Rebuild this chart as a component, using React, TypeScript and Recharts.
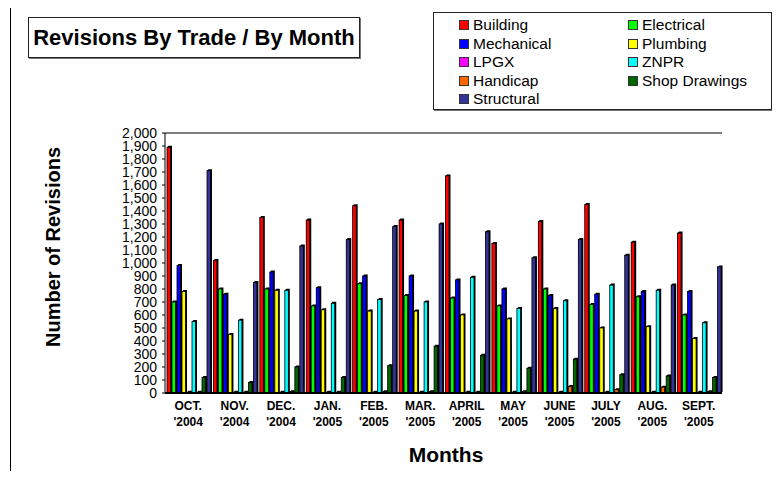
import React from 'react';
import {
  Bar,
  BarChart,
  ReferenceLine,
  XAxis,
  YAxis} from 'recharts';

const months = ['OCT.', 'NOV.', 'DEC.', 'JAN.', 'FEB.', 'MAR.', 'APRIL', 'MAY', 'JUNE', 'JULY', 'AUG.', 'SEPT.'];
const years = ["'2004", "'2004", "'2004", "'2005", "'2005", "'2005", "'2005", "'2005", "'2005", "'2005", "'2005", "'2005"];

const building = [1890, 1020, 1350, 1330, 1440, 1330, 1670, 1150, 1320, 1450, 1160, 1230];
const electrical = [700, 800, 800, 670, 840, 750, 730, 670, 800, 680, 740, 600];
const mechanical = [980, 760, 930, 810, 900, 900, 870, 800, 750, 760, 780, 780];
const plumbing = [780, 450, 790, 640, 630, 630, 600, 570, 650, 500, 510, 420];
const lpgx = [5, 5, 5, 5, 5, 5, 5, 5, 5, 5, 5, 5];
const znpr = [550, 560, 790, 690, 720, 700, 890, 650, 710, 830, 790, 540];
const handicap = [5, 5, 10, 5, 10, 10, 5, 10, 50, 25, 45, 10];
const shopDrawings = [120, 80, 200, 120, 210, 360, 290, 190, 260, 140, 130, 120];
const structural = [1710, 850, 1130, 1180, 1280, 1300, 1240, 1040, 1180, 1060, 830, 970];

const yTicks = [0, 100, 200, 300, 400, 500, 600, 700, 800, 900, 1000, 1100, 1200, 1300, 1400, 1500, 1600, 1700, 1800, 1900, 2000];

const series = [
  { key: 'building', name: 'Building', color: '#FF0000', values: building },
  { key: 'electrical', name: 'Electrical', color: '#00FF00', values: electrical },
  { key: 'mechanical', name: 'Mechanical', color: '#0000FF', values: mechanical },
  { key: 'plumbing', name: 'Plumbing', color: '#FFFF00', values: plumbing },
  { key: 'lpgx', name: 'LPGX', color: '#FF00FF', values: lpgx },
  { key: 'znpr', name: 'ZNPR', color: '#00FFFF', values: znpr },
  { key: 'handicap', name: 'Handicap', color: '#FF6600', values: handicap },
  { key: 'shop', name: 'Shop Drawings', color: '#006600', values: shopDrawings },
  { key: 'structural', name: 'Structural', color: '#333399', values: structural },
];

const data = months.map((m, i) => {
  const row: Record<string, string | number> = { month: m, year: years[i] };
  series.forEach(s => { row[s.key] = s.values[i]; });
  return row;
});

const font = 'Arial, "Liberation Sans", sans-serif';

// bar with a small dark side and cap, like the old 3D column look
const Bar3D = (props: any) => {
  const { x, y, width, height, fill } = props;
  if (!height || height <= 0) return null;
  const d = 1.5;
  const w = Math.max(width - d, 1);
  const side = `M${x},${y} L${x + d},${y - d} L${x + w + d},${y - d} L${x + w + d},${y + height - d} L${x + w},${y + height} Z`;
  return (
    <g>
      <path d={side} fill="#000" />
      <rect x={x} y={y} width={w} height={height} fill={fill} stroke="#000" strokeWidth={0.8} />
    </g>
  );
};

const MonthTick = (props: any) => {
  const { x, y, payload } = props;
  const idx = months.indexOf(payload.value);
  return (
    <g>
      <text x={x} y={y + 15} textAnchor="middle" fontSize={12} fontWeight="bold" fontFamily={font} fill="#000">
        {payload.value}
      </text>
      <text x={x} y={y + 31} textAnchor="middle" fontSize={12} fontWeight="bold" fontFamily={font} fill="#000">
        {years[idx]}
      </text>
    </g>
  );
};

const TradeLegend = () => (
  <div style={{
    position: 'absolute', left: 425, top: 4, width: 337, height: 96,
    border: '1px solid #222', boxShadow: '1px 1px 0 #777', background: '#fff',
    fontFamily: font, fontSize: 15.5, color: '#000'
  }}>
    {series.map((s, i) => (
      <div key={s.key} style={{
        position: 'absolute',
        left: i % 2 === 0 ? 25 : 194,
        top: 3 + Math.floor(i / 2) * 18.6,
        display: 'flex', alignItems: 'center', lineHeight: '18px', whiteSpace: 'nowrap'
      }}>
        <span style={{ display: 'inline-block', width: 8, height: 8, background: s.color, border: '1px solid #333', marginRight: 4 }} />
        {s.name}
      </div>
    ))}
  </div>
);

export default function App() {
  return (
    <div style={{ position: 'relative', width: 764, height: 463, fontFamily: font }}>
      <div style={{ position: 'absolute', left: 2, top: -1, width: 762, height: 464, borderTop: '1px solid #000', borderLeft: '1px solid #000' }} />
      <BarChart
        width={764}
        height={463}
        data={data}
        margin={{ top: 125, right: 50, bottom: 38, left: 0 }}
        barGap={0}
        barCategoryGap={2}
      >
        <XAxis
          dataKey="month"
          height={40}
          interval={0}
          tickLine={false}
          tickSize={0}
          tick={<MonthTick />}
          axisLine={{ stroke: '#000', strokeWidth: 2 }}
        />
        <YAxis
          width={157}
          domain={[0, 2000]}
          ticks={yTicks}
          interval={0}
          tickSize={3}
          tickMargin={5}
          tickFormatter={(v: number) => v.toLocaleString('en-US')}
          tick={{ fill: '#000', fontSize: 14, fontFamily: font }}
          axisLine={{ stroke: '#000' }}
          tickLine={{ stroke: '#000' }}
        />
        <YAxis
          yAxisId="r"
          orientation="right"
          width={0}
          domain={[0, 2000]}
          tick={false}
          tickLine={false}
          axisLine={{ stroke: '#000' }}
        />
        <ReferenceLine y={2000} stroke="#000" />
        {series.map(s => (
          <Bar
            key={s.key}
            dataKey={s.key}
            name={s.name}
            fill={s.color}
            shape={<Bar3D />}
            isAnimationActive={false}
          />
        ))}
      </BarChart>
      <div style={{
        position: 'absolute', left: 20, top: 9, width: 330, height: 39,
        border: '1px solid #222', boxShadow: '1px 1px 0 #777',
        display: 'flex', alignItems: 'center', justifyContent: 'center',
        fontSize: 22, fontWeight: 'bold', color: '#000'
      }}>
        Revisions By Trade / By Month
      </div>
      <TradeLegend />
      <div style={{
        position: 'absolute', left: 45 - 150, top: 239 - 13, width: 300, height: 26,
        transform: 'rotate(-90deg)', textAlign: 'center',
        fontSize: 20, fontWeight: 'bold', color: '#000', lineHeight: '26px'
      }}>
        Number of Revisions
      </div>
      <div style={{
        position: 'absolute', left: 438 - 100, top: 447 - 13, width: 200, textAlign: 'center',
        fontSize: 21, fontWeight: 'bold', color: '#000', lineHeight: '26px'
      }}>
        Months
      </div>
    </div>
  );
}
